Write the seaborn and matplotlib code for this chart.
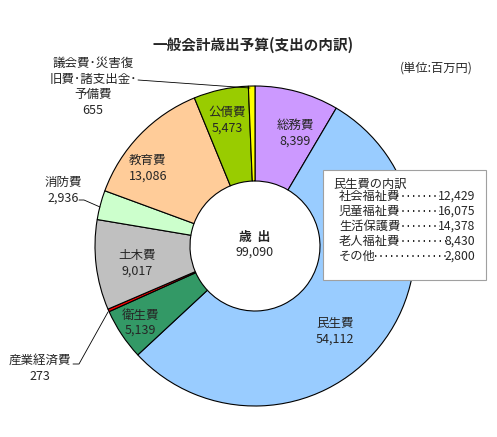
import matplotlib
matplotlib.use('Agg')
import matplotlib.pyplot as plt
import seaborn as sns

# data
categories = ['総務費', '民生費', '衛生費', '産業経済費', '土木費', '消防費', '教育費', '公債費',
              '議会費･災害復\n旧費･諸支出金･\n予備費']
values = [8399, 54112, 5139, 273, 9017, 2936, 13086, 5473, 655]
colors = ['#CC99FF', '#99CCFF', '#339966', '#FF0000', '#C0C0C0', '#CCFFCC', '#FFCC99', '#99CC00', '#FFFF00']

sub_names = ['社会福祉費', '児童福祉費', '生活保護費', '老人福祉費', 'その他']
sub_values = [12429, 16075, 14378, 8430, 2800]

title = '一般会計歳出予算(支出の内訳)'
unit = '(単位:百万円)'

sns.set_style('white')
plt.rcParams['font.family'] = ['Noto Sans CJK JP', 'DejaVu Sans']

W, H = 497, 437
fig = plt.figure(figsize=(W / 100, H / 100), dpi=100)
ax = fig.add_axes([0, 0, 1, 1])

def py(y):
    # pixel y (from top) -> axes y
    return H - y

cx, cy, R = 255, 246, 160
ax.pie(values, colors=colors, startangle=90, counterclock=False,
       center=(cx, py(cy)), radius=R,
       wedgeprops=dict(width=R - 65, edgecolor='black', linewidth=0.8))
ax.set_xlim(0, W)
ax.set_ylim(0, H)
ax.axis('off')

fs = 9
# name position and value position (pixels)
name_pos = [(295, 125), (335, 323), (140, 315), (40, 360), (137, 256), (63, 182), (148, 160), (227, 112), (93, 79)]
val_pos = [(295, 141), (335, 339), (140, 330), (40, 377), (137, 271), (63, 198), (148, 176), (227, 128), (93, 110)]
for name, v, (x, y), (vx, vy) in zip(categories, values, name_pos, val_pos):
    ax.text(x, py(y), name, ha='center', va='center', fontsize=fs, linespacing=1.25)
    ax.text(vx, py(vy), f'{v:,}', ha='center', va='center', fontsize=fs)

# leader lines
ax.plot([138, 250], [py(80), py(88)], color='black', lw=0.6)
ax.plot([79, 84, 100], [py(200), py(200), py(207)], color='black', lw=0.6)
ax.plot([73, 79, 108], [py(364), py(364), py(312)], color='black', lw=0.6)

# center
ax.text(cx, py(237), '歳  出', ha='center', va='center', fontsize=9.2, fontweight='bold')
ax.text(cx, py(252), f'{sum(values):,}', ha='center', va='center', fontsize=fs)

# title and unit
ax.text(253, py(45), title, ha='center', va='center', fontsize=10.5, fontweight='bold')
ax.text(436, py(68), unit, ha='center', va='center', fontsize=8.8)

# breakdown box
box = plt.Rectangle((323, py(280)), 163, 110, facecolor='white', edgecolor='#A0A0A0', lw=0.8)
ax.add_patch(box)
lfs = 8.8
ax.text(333, py(184), '民生費の内訳', ha='left', va='center', fontsize=lfs)
for j, (n, v) in enumerate(zip(sub_names, sub_values)):
    y = 196 + j * 15
    ax.text(339, py(y), n, ha='left', va='center', fontsize=lfs)
    ax.text(475, py(y), f'{v:,}', ha='right', va='center', fontsize=lfs)
    x0 = 339 + len(n) * 11.2 + 2
    x1 = 475 - len(f'{v:,}') * 5.6 - 1
    ax.plot([x0, x1], [py(y), py(y)], color='black', lw=1.2, linestyle=(0, (0.8, 2.4)))

fig.savefig('out.png', dpi=100)
